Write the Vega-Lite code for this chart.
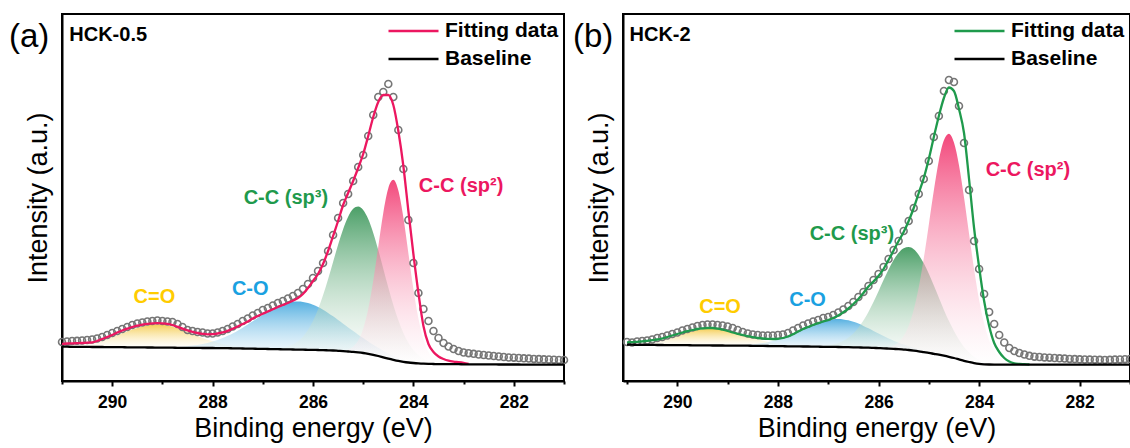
{
"$schema": "https://vega.github.io/schema/vega-lite/v6.json",
"padding": {"left": 8, "top": 13, "right": 0, "bottom": 0},
"spacing": 59,
"bounds": "flush",
"datasets": {
"a": [
{"e":291.0,"raw":39,"Fitting data":37,"Baseline":34.3,"c1":34.9},
{"e":290.9,"raw":39.5,"Fitting data":37.5,"Baseline":34.3,"c1":35.1},
{"e":290.8,"raw":40,"Fitting data":37.6,"Baseline":34.2,"c1":35.4},
{"e":290.7,"raw":40.2,"Fitting data":37.8,"Baseline":34.2,"c1":35.9},
{"e":290.6,"raw":40.5,"Fitting data":38,"Baseline":34.1,"c1":36.4},
{"e":290.5,"raw":41,"Fitting data":38.3,"Baseline":34.1,"c1":37.2},
{"e":290.4,"raw":41.5,"Fitting data":38.6,"Baseline":34,"c1":38.1},
{"e":290.3,"raw":42.5,"Fitting data":40,"Baseline":34,"c1":39.3},
{"e":290.2,"raw":44,"Fitting data":42,"Baseline":34,"c1":40.7},
{"e":290.1,"raw":46,"Fitting data":44,"Baseline":33.9,"c1":42.2},
{"e":290.0,"raw":48,"Fitting data":46,"Baseline":33.9,"c1":44},
{"e":289.9,"raw":50,"Fitting data":48.5,"Baseline":33.8,"c1":45.8},
{"e":289.8,"raw":52,"Fitting data":50.5,"Baseline":33.8,"c1":47.8},
{"e":289.7,"raw":54,"Fitting data":52.3,"Baseline":33.7,"c1":49.6},
{"e":289.6,"raw":56,"Fitting data":54,"Baseline":33.7,"c1":51.5},
{"e":289.5,"raw":57.5,"Fitting data":55.3,"Baseline":33.6,"c1":53.1},
{"e":289.4,"raw":58.5,"Fitting data":56.3,"Baseline":33.6,"c1":54.6},
{"e":289.3,"raw":59.5,"Fitting data":57.2,"Baseline":33.5,"c1":55.6},
{"e":289.2,"raw":60,"Fitting data":57.7,"Baseline":33.5,"c1":56.3},
{"e":289.1,"raw":60.5,"Fitting data":57.8,"Baseline":33.4,"c1":56.4},
{"e":289.0,"raw":60,"Fitting data":57.6,"Baseline":33.4,"c1":56.2},
{"e":288.9,"raw":59.5,"Fitting data":57.1,"Baseline":33.3,"c1":55.4},
{"e":288.8,"raw":59,"Fitting data":56,"Baseline":33.3,"c1":54.3,"c2":33.9},
{"e":288.7,"raw":57,"Fitting data":54.2,"Baseline":33.2,"c1":52.7,"c2":34.1},
{"e":288.6,"raw":54,"Fitting data":52.3,"Baseline":33.2,"c1":51,"c2":34.4},
{"e":288.5,"raw":51,"Fitting data":50.6,"Baseline":33.1,"c1":49,"c2":34.8},
{"e":288.4,"raw":50,"Fitting data":49.2,"Baseline":33.1,"c1":47.1,"c2":35.4},
{"e":288.3,"raw":49,"Fitting data":48,"Baseline":33.1,"c1":45.1,"c2":36.1},
{"e":288.2,"raw":48.5,"Fitting data":47.2,"Baseline":33,"c1":43.1,"c2":37},
{"e":288.1,"raw":47.5,"Fitting data":46.7,"Baseline":33,"c1":41.3,"c2":38.1},
{"e":288.0,"raw":47.5,"Fitting data":46.8,"Baseline":33,"c1":39.7,"c2":39.5},
{"e":287.9,"raw":48.5,"Fitting data":47.5,"Baseline":32.9,"c1":38.2,"c2":41.1},
{"e":287.8,"raw":50,"Fitting data":48.6,"Baseline":32.8,"c1":36.9,"c2":42.9},
{"e":287.7,"raw":52,"Fitting data":50.2,"Baseline":32.8,"c1":35.9,"c2":45.2},
{"e":287.6,"raw":54.5,"Fitting data":52.2,"Baseline":32.7,"c1":35,"c2":47.6},
{"e":287.5,"raw":57,"Fitting data":54.5,"Baseline":32.6,"c1":34.3,"c2":50.3},
{"e":287.4,"raw":60,"Fitting data":57,"Baseline":32.5,"c1":33.7,"c2":53.3},
{"e":287.3,"raw":62.5,"Fitting data":59.5,"Baseline":32.4,"c1":33.2,"c2":56.5},
{"e":287.2,"raw":65.5,"Fitting data":62.5,"Baseline":32.3,"c1":32.9,"c2":59.7},
{"e":287.1,"raw":68,"Fitting data":65,"Baseline":32.2,"c1":32.6,"c2":63},
{"e":287.0,"raw":71,"Fitting data":67.3,"Baseline":32.1,"c2":66.3},
{"e":286.9,"raw":73,"Fitting data":69.5,"Baseline":32,"c2":69.4},
{"e":286.8,"raw":75.5,"Fitting data":71.8,"Baseline":31.9,"c2":72.3},
{"e":286.7,"raw":78,"Fitting data":74,"Baseline":31.8,"c2":74.8,"c3":32.7},
{"e":286.6,"raw":80,"Fitting data":76,"Baseline":31.7,"c2":76.8,"c3":33.3},
{"e":286.5,"raw":82.5,"Fitting data":78,"Baseline":31.6,"c2":78.3,"c3":34.5},
{"e":286.4,"raw":85,"Fitting data":80.3,"Baseline":31.5,"c2":79.2,"c3":36.5},
{"e":286.3,"raw":88,"Fitting data":83,"Baseline":31.4,"c2":79.4,"c3":39.6},
{"e":286.2,"raw":92,"Fitting data":87,"Baseline":31.3,"c2":79,"c3":44.3},
{"e":286.1,"raw":97,"Fitting data":93,"Baseline":31.2,"c2":77.9,"c3":50.9},
{"e":286.0,"raw":103,"Fitting data":100,"Baseline":31.1,"c2":76.2,"c3":60},
{"e":285.9,"raw":110,"Fitting data":107,"Baseline":31,"c2":74,"c3":71.6},
{"e":285.8,"raw":118,"Fitting data":117,"Baseline":30.9,"c2":71.3,"c3":85.7},
{"e":285.7,"raw":130,"Fitting data":130,"Baseline":30.7,"c2":68.1,"c3":101.8},
{"e":285.6,"raw":146,"Fitting data":145,"Baseline":30.5,"c2":64.7,"c3":119.1},
{"e":285.5,"raw":163,"Fitting data":160,"Baseline":30.2,"c2":61,"c3":136.2},
{"e":285.4,"raw":178,"Fitting data":176,"Baseline":29.9,"c2":57.3,"c3":151.8,"c4":30.6},
{"e":285.3,"raw":187,"Fitting data":188,"Baseline":29.5,"c2":53.6,"c3":164.3,"c4":31.5},
{"e":285.2,"raw":200,"Fitting data":200,"Baseline":29.1,"c2":49.9,"c3":172.2,"c4":34.3},
{"e":285.1,"raw":214,"Fitting data":213,"Baseline":28.6,"c2":46.3,"c3":174.6,"c4":40.4},
{"e":285.0,"raw":226,"Fitting data":227,"Baseline":28,"c2":42.9,"c3":171.1,"c4":52.3},
{"e":284.9,"raw":245,"Fitting data":245,"Baseline":27.2,"c2":39.6,"c3":162,"c4":72},
{"e":284.8,"raw":266,"Fitting data":264,"Baseline":26.2,"c2":36.3,"c3":148.1,"c4":100.2},
{"e":284.7,"raw":284,"Fitting data":279,"Baseline":25,"c2":33.2,"c3":131,"c4":134.3},
{"e":284.6,"raw":289,"Fitting data":286,"Baseline":23.7,"c2":30.2,"c3":112.3,"c4":167.9},
{"e":284.5,"raw":297,"Fitting data":286,"Baseline":22.4,"c2":27.5,"c3":93.5,"c4":192.7},
{"e":284.4,"raw":284,"Fitting data":276,"Baseline":21.2,"c2":25.2,"c3":76,"c4":201.2},
{"e":284.3,"raw":251,"Fitting data":250,"Baseline":20.1,"c2":23.1,"c3":60.7,"c4":190.4},
{"e":284.2,"raw":212,"Fitting data":215,"Baseline":19.2,"c2":21.5,"c3":48.1,"c4":163.4},
{"e":284.1,"raw":161,"Fitting data":170,"Baseline":18.5,"c2":20.2,"c3":38.2,"c4":127.8},
{"e":284.0,"raw":118,"Fitting data":127,"Baseline":18,"c2":19.2,"c3":31,"c4":92},
{"e":283.9,"raw":88,"Fitting data":88,"Baseline":17.6,"c2":18.5,"c3":25.8,"c4":62.4},
{"e":283.8,"raw":72,"Fitting data":55,"Baseline":17.3,"c2":17.9,"c3":22.3,"c4":41.6},
{"e":283.7,"raw":60,"Fitting data":37,"Baseline":17.1,"c3":20,"c4":28.9},
{"e":283.6,"raw":50,"Fitting data":29,"Baseline":17,"c3":18.6,"c4":22.2},
{"e":283.5,"raw":43,"Fitting data":24.5,"Baseline":16.9,"c3":17.8,"c4":18.9},
{"e":283.4,"raw":38,"Fitting data":22,"Baseline":16.9,"c4":17.6},
{"e":283.3,"raw":34.5,"Fitting data":20.3,"Baseline":16.8},
{"e":283.2,"raw":32,"Fitting data":19.4,"Baseline":16.8},
{"e":283.1,"raw":30,"Fitting data":18.9,"Baseline":16.8},
{"e":283.0,"raw":28.5,"Fitting data":18.2,"Baseline":16.7},
{"e":282.9,"raw":27.8,"Fitting data":17.2,"Baseline":16.7},
{"e":282.8,"raw":27.2,"Baseline":16.7},
{"e":282.7,"raw":26.5,"Baseline":16.6},
{"e":282.6,"raw":26,"Baseline":16.6},
{"e":282.5,"raw":25.5,"Baseline":16.6},
{"e":282.4,"raw":25,"Baseline":16.6},
{"e":282.3,"raw":24.5,"Baseline":16.5},
{"e":282.2,"raw":24,"Baseline":16.5},
{"e":282.1,"raw":23.5,"Baseline":16.5},
{"e":282.0,"raw":23.3,"Baseline":16.5},
{"e":281.9,"raw":23,"Baseline":16.5},
{"e":281.8,"raw":22.7,"Baseline":16.4},
{"e":281.7,"raw":22.4,"Baseline":16.4},
{"e":281.6,"raw":22.1,"Baseline":16.4},
{"e":281.5,"raw":21.9,"Baseline":16.4},
{"e":281.4,"raw":21.7,"Baseline":16.4},
{"e":281.3,"raw":21.5,"Baseline":16.3},
{"e":281.2,"raw":21.3,"Baseline":16.3},
{"e":281.1,"raw":21.1,"Baseline":16.3},
{"e":281.0,"raw":21,"Baseline":16.3}
],
"b": [
{"e":291.0,"raw":39,"Fitting data":38.7,"Baseline":36.3,"c1":36.9},
{"e":290.9,"raw":38.5,"Fitting data":38.8,"Baseline":36.3,"c1":37.1},
{"e":290.8,"raw":39.5,"Fitting data":39.2,"Baseline":36.2,"c1":37.4},
{"e":290.7,"raw":40,"Fitting data":39.6,"Baseline":36.2,"c1":37.9},
{"e":290.6,"raw":40.5,"Fitting data":40.2,"Baseline":36.1,"c1":38.4},
{"e":290.5,"raw":41.5,"Fitting data":40.8,"Baseline":36.1,"c1":39.2},
{"e":290.4,"raw":43,"Fitting data":41.5,"Baseline":36,"c1":40.1},
{"e":290.3,"raw":44,"Fitting data":42.5,"Baseline":36,"c1":41.2},
{"e":290.2,"raw":45.5,"Fitting data":44,"Baseline":35.9,"c1":42.4},
{"e":290.1,"raw":47,"Fitting data":45.5,"Baseline":35.9,"c1":43.9},
{"e":290.0,"raw":48.5,"Fitting data":47,"Baseline":35.8,"c1":45.3},
{"e":289.9,"raw":50.5,"Fitting data":48.5,"Baseline":35.8,"c1":46.9},
{"e":289.8,"raw":52,"Fitting data":49.8,"Baseline":35.8,"c1":48.5},
{"e":289.7,"raw":53.5,"Fitting data":51,"Baseline":35.7,"c1":49.8},
{"e":289.6,"raw":55,"Fitting data":52,"Baseline":35.7,"c1":51},
{"e":289.5,"raw":56,"Fitting data":52.6,"Baseline":35.6,"c1":51.8},
{"e":289.4,"raw":56.5,"Fitting data":53,"Baseline":35.6,"c1":52.4},
{"e":289.3,"raw":56.5,"Fitting data":53,"Baseline":35.5,"c1":52.5},
{"e":289.2,"raw":56,"Fitting data":52.4,"Baseline":35.5,"c1":52.3},
{"e":289.1,"raw":55.5,"Fitting data":51.3,"Baseline":35.5,"c1":51.7},
{"e":289.0,"raw":54.5,"Fitting data":50,"Baseline":35.4,"c1":50.7},
{"e":288.9,"raw":53,"Fitting data":48.5,"Baseline":35.4,"c1":49.5},
{"e":288.8,"raw":51,"Fitting data":47.2,"Baseline":35.4,"c1":48.1,"c2":35.9},
{"e":288.7,"raw":49,"Fitting data":46,"Baseline":35.3,"c1":46.4,"c2":36},
{"e":288.6,"raw":47.5,"Fitting data":44.8,"Baseline":35.3,"c1":44.8,"c2":36.3},
{"e":288.5,"raw":46.5,"Fitting data":43.8,"Baseline":35.2,"c1":43.2,"c2":36.7},
{"e":288.4,"raw":46,"Fitting data":43,"Baseline":35.2,"c1":41.7,"c2":37.3},
{"e":288.3,"raw":45.5,"Fitting data":42.5,"Baseline":35.1,"c1":40.3,"c2":37.9},
{"e":288.2,"raw":45.5,"Fitting data":42.2,"Baseline":35,"c1":39.1,"c2":38.8},
{"e":288.1,"raw":45.5,"Fitting data":42,"Baseline":34.9,"c1":38,"c2":39.9},
{"e":288.0,"raw":46,"Fitting data":42.2,"Baseline":34.9,"c1":37.2,"c2":41.3},
{"e":287.9,"raw":46.5,"Fitting data":43,"Baseline":34.8,"c1":36.5,"c2":43},
{"e":287.8,"raw":48,"Fitting data":44.5,"Baseline":34.7,"c1":35.9,"c2":44.8},
{"e":287.7,"raw":50.5,"Fitting data":46.8,"Baseline":34.7,"c1":35.5,"c2":47},
{"e":287.6,"raw":53,"Fitting data":49.5,"Baseline":34.6,"c1":35.2,"c2":49.2},
{"e":287.5,"raw":55.5,"Fitting data":52,"Baseline":34.5,"c1":34.9,"c2":51.5},
{"e":287.4,"raw":57.5,"Fitting data":54,"Baseline":34.5,"c2":53.9},
{"e":287.3,"raw":59.5,"Fitting data":56,"Baseline":34.4,"c2":56.1},
{"e":287.2,"raw":61,"Fitting data":57.8,"Baseline":34.3,"c2":58.1},
{"e":287.1,"raw":63,"Fitting data":59.5,"Baseline":34.2,"c2":59.7,"c3":35.1},
{"e":287.0,"raw":64,"Fitting data":61,"Baseline":34.2,"c2":61.1,"c3":35.7},
{"e":286.9,"raw":66,"Fitting data":63,"Baseline":34.1,"c2":61.8,"c3":36.6},
{"e":286.8,"raw":68.5,"Fitting data":65.5,"Baseline":34,"c2":62,"c3":38},
{"e":286.7,"raw":71.5,"Fitting data":68.7,"Baseline":33.9,"c2":61.6,"c3":40.2},
{"e":286.6,"raw":75,"Fitting data":72.5,"Baseline":33.8,"c2":60.7,"c3":43.3},
{"e":286.5,"raw":79,"Fitting data":77,"Baseline":33.7,"c2":59.2,"c3":47.6},
{"e":286.4,"raw":84,"Fitting data":82,"Baseline":33.6,"c2":57.4,"c3":53.3},
{"e":286.3,"raw":89,"Fitting data":88,"Baseline":33.4,"c2":55.1,"c3":60.4},
{"e":286.2,"raw":95,"Fitting data":94.5,"Baseline":33.3,"c2":52.7,"c3":69},
{"e":286.1,"raw":101,"Fitting data":99.5,"Baseline":33.1,"c2":50.1,"c3":78.9},
{"e":286.0,"raw":107,"Fitting data":105,"Baseline":32.9,"c2":47.5,"c3":89.8},
{"e":285.9,"raw":114,"Fitting data":112,"Baseline":32.7,"c2":45,"c3":100.9},
{"e":285.8,"raw":122,"Fitting data":121,"Baseline":32.4,"c2":42.5,"c3":111.5,"c4":33.9},
{"e":285.7,"raw":131,"Fitting data":130.5,"Baseline":32.1,"c2":40.3,"c3":120.9,"c4":35.5},
{"e":285.6,"raw":140,"Fitting data":140,"Baseline":31.8,"c2":38.2,"c3":128.2,"c4":38.8},
{"e":285.5,"raw":150,"Fitting data":149,"Baseline":31.4,"c2":36.4,"c3":132.8,"c4":44.9},
{"e":285.4,"raw":160,"Fitting data":160,"Baseline":31,"c2":34.8,"c3":134,"c4":55.3},
{"e":285.3,"raw":173,"Fitting data":173,"Baseline":30.4,"c2":33.2,"c3":131.8,"c4":71.2},
{"e":285.2,"raw":187,"Fitting data":188,"Baseline":29.7,"c2":31.8,"c3":126.1,"c4":93.7},
{"e":285.1,"raw":202,"Fitting data":203,"Baseline":28.9,"c2":30.4,"c3":117.7,"c4":122.8},
{"e":285.0,"raw":220,"Fitting data":222,"Baseline":28.1,"c2":29.1,"c3":107.2,"c4":156.3},
{"e":284.9,"raw":244,"Fitting data":244,"Baseline":27.2,"c2":27.9,"c3":95.4,"c4":190.4},
{"e":284.8,"raw":265,"Fitting data":265,"Baseline":26.3,"c2":26.8,"c3":83.2,"c4":220.5},
{"e":284.7,"raw":290,"Fitting data":283,"Baseline":25.3,"c3":71.1,"c4":240.7},
{"e":284.6,"raw":301,"Fitting data":293.5,"Baseline":24.2,"c3":59.9,"c4":247.2},
{"e":284.5,"raw":299,"Fitting data":290,"Baseline":23,"c3":50,"c4":238.4},
{"e":284.4,"raw":275,"Fitting data":272,"Baseline":21.6,"c3":41.3,"c4":215.8},
{"e":284.3,"raw":238,"Fitting data":248,"Baseline":20.2,"c3":34.1,"c4":183.4},
{"e":284.2,"raw":191,"Fitting data":202,"Baseline":19,"c3":28.5,"c4":147.2},
{"e":284.1,"raw":140,"Fitting data":153,"Baseline":17.9,"c3":24.2,"c4":111.8},
{"e":284.0,"raw":112,"Fitting data":114,"Baseline":17.1,"c3":21.1,"c4":81.1},
{"e":283.9,"raw":87,"Fitting data":80,"Baseline":16.7,"c3":19.2,"c4":57.5},
{"e":283.8,"raw":69,"Fitting data":55,"Baseline":16.5,"c3":18,"c4":40.8},
{"e":283.7,"raw":57,"Fitting data":38,"Baseline":16.4,"c3":17.3,"c4":29.9},
{"e":283.6,"raw":46,"Fitting data":29,"Baseline":16.4,"c4":23.4},
{"e":283.5,"raw":38.5,"Fitting data":23,"Baseline":16.4,"c4":19.8},
{"e":283.4,"raw":33,"Fitting data":19.5,"Baseline":16.4,"c4":17.9},
{"e":283.3,"raw":30,"Fitting data":17.7,"Baseline":16.4},
{"e":283.2,"raw":28,"Fitting data":17.1,"Baseline":16.4},
{"e":283.1,"raw":26.5,"Fitting data":16.8,"Baseline":16.4},
{"e":283.0,"raw":25.2,"Fitting data":16.5,"Baseline":16.4},
{"e":282.9,"raw":24.3,"Baseline":16.4},
{"e":282.8,"raw":24,"Baseline":16.4},
{"e":282.7,"raw":23.6,"Baseline":16.4},
{"e":282.6,"raw":23.3,"Baseline":16.4},
{"e":282.5,"raw":23,"Baseline":16.4},
{"e":282.4,"raw":22.7,"Baseline":16.4},
{"e":282.3,"raw":22.4,"Baseline":16.4},
{"e":282.2,"raw":22.1,"Baseline":16.4},
{"e":282.1,"raw":21.9,"Baseline":16.4},
{"e":282.0,"raw":21.7,"Baseline":16.4},
{"e":281.9,"raw":21.5,"Baseline":16.3},
{"e":281.8,"raw":21.4,"Baseline":16.3},
{"e":281.7,"raw":21.3,"Baseline":16.3},
{"e":281.6,"raw":21.2,"Baseline":16.3},
{"e":281.5,"raw":21.1,"Baseline":16.3},
{"e":281.4,"raw":21.2,"Baseline":16.3},
{"e":281.3,"raw":21.4,"Baseline":16.3},
{"e":281.2,"raw":21.6,"Baseline":16.3},
{"e":281.1,"raw":21.8,"Baseline":16.3},
{"e":281.0,"raw":22,"Baseline":16.3}
]
},
"hconcat": [
{
"width": 502, "height": 367,
"title": {"text": "(a)", "anchor": "start", "frame": "group", "offset": 0, "dx": -53, "dy": 40, "fontSize": 33, "fontWeight": "normal", "font": "Liberation Sans", "color": "black"},
"data": {"name": "a"},
"layer": [
{"mark": {"type": "area", "interpolate": "monotone", "color": {"gradient": "linear", "x1": 0, "y1": 0, "x2": 0, "y2": 1, "stops": [{"offset": 0, "color": "rgba(242,190,30,0.75)"}, {"offset": 1, "color": "rgba(255,255,255,0.3)"}]}},
 "encoding": {
  "x": {"field": "e", "type": "quantitative", "scale": {"domain": [281, 291], "reverse": true, "nice": false, "zero": false},
        "axis": {"title": "Binding energy (eV)", "values": [291,290,289,288,287,286,285,284,283,282,281], "labelExpr": "datum.value % 2 === 0 ? datum.label : ''", "tickSize": {"condition": {"test": "datum.value % 2 === 0", "value": 5}, "value": 3}, "labelFontSize": 17.5, "labelFontWeight": "bold", "labelPadding": 7, "labelFlush": false, "labelOverlap": false, "titleFontSize": 27, "titleFontWeight": "normal", "titlePadding": 5, "grid": false}},
  "y": {"field": "c1", "type": "quantitative", "scale": {"domain": [0, 367], "nice": false, "zero": false},
        "axis": {"title": "Intensity (a.u.)", "labels": false, "ticks": false, "grid": false, "titleFontSize": 27, "titleFontWeight": "normal", "titlePadding": 10}},
  "y2": {"field": "Baseline"}}},
{"mark": {"type": "area", "interpolate": "monotone", "color": {"gradient": "linear", "x1": 0, "y1": 0, "x2": 0, "y2": 1, "stops": [{"offset": 0, "color": "rgba(30,150,215,0.75)"}, {"offset": 1, "color": "rgba(255,255,255,0.3)"}]}},
 "encoding": {
  "x": {"field": "e", "type": "quantitative", "scale": {"domain": [281, 291], "reverse": true, "nice": false, "zero": false}},
  "y": {"field": "c2", "type": "quantitative", "scale": {"domain": [0, 367], "nice": false, "zero": false}},
  "y2": {"field": "Baseline"}}},
{"mark": {"type": "area", "interpolate": "monotone", "color": {"gradient": "linear", "x1": 0, "y1": 0, "x2": 0, "y2": 1, "stops": [{"offset": 0, "color": "rgba(30,135,65,0.8)"}, {"offset": 1, "color": "rgba(255,255,255,0.3)"}]}},
 "encoding": {
  "x": {"field": "e", "type": "quantitative", "scale": {"domain": [281, 291], "reverse": true, "nice": false, "zero": false}},
  "y": {"field": "c3", "type": "quantitative", "scale": {"domain": [0, 367], "nice": false, "zero": false}},
  "y2": {"field": "Baseline"}}},
{"mark": {"type": "area", "interpolate": "monotone", "color": {"gradient": "linear", "x1": 0, "y1": 0, "x2": 0, "y2": 1, "stops": [{"offset": 0, "color": "rgba(240,40,100,0.85)"}, {"offset": 1, "color": "rgba(255,255,255,0.3)"}]}},
 "encoding": {
  "x": {"field": "e", "type": "quantitative", "scale": {"domain": [281, 291], "reverse": true, "nice": false, "zero": false}},
  "y": {"field": "c4", "type": "quantitative", "scale": {"domain": [0, 367], "nice": false, "zero": false}},
  "y2": {"field": "Baseline"}}},
{"mark": {"type": "point", "shape": "circle", "filled": false, "color": "#767676", "strokeWidth": 1.6, "size": 48, "opacity": 1},
 "encoding": {
  "x": {"field": "e", "type": "quantitative", "scale": {"domain": [281, 291], "reverse": true, "nice": false, "zero": false}},
  "y": {"field": "raw", "type": "quantitative", "scale": {"domain": [0, 367], "nice": false, "zero": false}}}},
{"transform": [{"fold": ["Fitting data", "Baseline"]}],
 "mark": {"type": "line", "strokeWidth": 2.3, "interpolate": "monotone"},
 "encoding": {
  "x": {"field": "e", "type": "quantitative", "scale": {"domain": [281, 291], "reverse": true, "nice": false, "zero": false}},
  "y": {"field": "value", "type": "quantitative", "scale": {"domain": [0, 367], "nice": false, "zero": false}},
  "color": {"field": "key", "type": "nominal", "scale": {"domain": ["Fitting data", "Baseline"], "range": ["#EC1760", "#000000"]},
    "legend": {"orient": "top-right", "title": null, "symbolType": "stroke", "symbolSize": 2500, "symbolStrokeWidth": 2.5, "clipHeight": 24, "rowPadding": 4, "labelFontSize": 21, "labelFontWeight": "bold", "labelFont": "Liberation Sans", "labelColor": "black", "labelOffset": 5, "padding": 0, "offset": 5}}}},
{"data": {"values": [{}]}, "mark": {"type": "text", "text": "HCK-0.5", "align": "left", "baseline": "alphabetic", "fontSize": 20, "fontWeight": "bold", "font": "Liberation Sans", "color": "black"},
 "encoding": {"x": {"datum": 290.855, "type": "quantitative", "scale": {"domain": [281, 291], "reverse": true, "nice": false, "zero": false}}, "y": {"datum": 340, "type": "quantitative", "scale": {"domain": [0, 367], "nice": false, "zero": false}}}},
{"data": {"values": [{}]}, "mark": {"type": "text", "text": "C=O", "align": "center", "baseline": "middle", "fontSize": 20, "fontWeight": "bold", "font": "Liberation Sans", "color": "#FFCC00"},
 "encoding": {"x": {"datum": 289.16, "type": "quantitative", "scale": {"domain": [281, 291], "reverse": true, "nice": false, "zero": false}}, "y": {"datum": 84, "type": "quantitative", "scale": {"domain": [0, 367], "nice": false, "zero": false}}}},
{"data": {"values": [{}]}, "mark": {"type": "text", "text": "C-O", "align": "center", "baseline": "middle", "fontSize": 20, "fontWeight": "bold", "font": "Liberation Sans", "color": "#1AA1E1"},
 "encoding": {"x": {"datum": 287.25, "type": "quantitative", "scale": {"domain": [281, 291], "reverse": true, "nice": false, "zero": false}}, "y": {"datum": 92, "type": "quantitative", "scale": {"domain": [0, 367], "nice": false, "zero": false}}}},
{"data": {"values": [{}]}, "mark": {"type": "text", "text": "C-C (sp³)", "align": "center", "baseline": "middle", "fontSize": 20, "fontWeight": "bold", "font": "Liberation Sans", "color": "#1F9A4C"},
 "encoding": {"x": {"datum": 286.54, "type": "quantitative", "scale": {"domain": [281, 291], "reverse": true, "nice": false, "zero": false}}, "y": {"datum": 183, "type": "quantitative", "scale": {"domain": [0, 367], "nice": false, "zero": false}}}},
{"data": {"values": [{}]}, "mark": {"type": "text", "text": "C-C (sp²)", "align": "center", "baseline": "middle", "fontSize": 20, "fontWeight": "bold", "font": "Liberation Sans", "color": "#EC1760"},
 "encoding": {"x": {"datum": 283.05, "type": "quantitative", "scale": {"domain": [281, 291], "reverse": true, "nice": false, "zero": false}}, "y": {"datum": 195, "type": "quantitative", "scale": {"domain": [0, 367], "nice": false, "zero": false}}}}
]
},
{
"width": 507, "height": 367,
"title": {"text": "(b)", "anchor": "start", "frame": "group", "offset": 0, "dx": -50, "dy": 40, "fontSize": 33, "fontWeight": "normal", "font": "Liberation Sans", "color": "black"},
"data": {"name": "b"},
"layer": [
{"mark": {"type": "area", "interpolate": "monotone", "color": {"gradient": "linear", "x1": 0, "y1": 0, "x2": 0, "y2": 1, "stops": [{"offset": 0, "color": "rgba(242,190,30,0.75)"}, {"offset": 1, "color": "rgba(255,255,255,0.3)"}]}},
 "encoding": {
  "x": {"field": "e", "type": "quantitative", "scale": {"domain": [281, 291.08], "reverse": true, "nice": false, "zero": false},
        "axis": {"title": "Binding energy (eV)", "values": [291,290,289,288,287,286,285,284,283,282,281], "labelExpr": "datum.value % 2 === 0 ? datum.label : ''", "tickSize": {"condition": {"test": "datum.value % 2 === 0", "value": 5}, "value": 3}, "labelFontSize": 17.5, "labelFontWeight": "bold", "labelPadding": 7, "labelFlush": false, "labelOverlap": false, "titleFontSize": 27, "titleFontWeight": "normal", "titlePadding": 5, "grid": false}},
  "y": {"field": "c1", "type": "quantitative", "scale": {"domain": [0, 367], "nice": false, "zero": false},
        "axis": {"title": "Intensity (a.u.)", "labels": false, "ticks": false, "grid": false, "titleFontSize": 27, "titleFontWeight": "normal", "titlePadding": 10}},
  "y2": {"field": "Baseline"}}},
{"mark": {"type": "area", "interpolate": "monotone", "color": {"gradient": "linear", "x1": 0, "y1": 0, "x2": 0, "y2": 1, "stops": [{"offset": 0, "color": "rgba(30,150,215,0.75)"}, {"offset": 1, "color": "rgba(255,255,255,0.3)"}]}},
 "encoding": {
  "x": {"field": "e", "type": "quantitative", "scale": {"domain": [281, 291.08], "reverse": true, "nice": false, "zero": false}},
  "y": {"field": "c2", "type": "quantitative", "scale": {"domain": [0, 367], "nice": false, "zero": false}},
  "y2": {"field": "Baseline"}}},
{"mark": {"type": "area", "interpolate": "monotone", "color": {"gradient": "linear", "x1": 0, "y1": 0, "x2": 0, "y2": 1, "stops": [{"offset": 0, "color": "rgba(30,135,65,0.8)"}, {"offset": 1, "color": "rgba(255,255,255,0.3)"}]}},
 "encoding": {
  "x": {"field": "e", "type": "quantitative", "scale": {"domain": [281, 291.08], "reverse": true, "nice": false, "zero": false}},
  "y": {"field": "c3", "type": "quantitative", "scale": {"domain": [0, 367], "nice": false, "zero": false}},
  "y2": {"field": "Baseline"}}},
{"mark": {"type": "area", "interpolate": "monotone", "color": {"gradient": "linear", "x1": 0, "y1": 0, "x2": 0, "y2": 1, "stops": [{"offset": 0, "color": "rgba(240,40,100,0.85)"}, {"offset": 1, "color": "rgba(255,255,255,0.3)"}]}},
 "encoding": {
  "x": {"field": "e", "type": "quantitative", "scale": {"domain": [281, 291.08], "reverse": true, "nice": false, "zero": false}},
  "y": {"field": "c4", "type": "quantitative", "scale": {"domain": [0, 367], "nice": false, "zero": false}},
  "y2": {"field": "Baseline"}}},
{"mark": {"type": "point", "shape": "circle", "filled": false, "color": "#767676", "strokeWidth": 1.6, "size": 48, "opacity": 1},
 "encoding": {
  "x": {"field": "e", "type": "quantitative", "scale": {"domain": [281, 291.08], "reverse": true, "nice": false, "zero": false}},
  "y": {"field": "raw", "type": "quantitative", "scale": {"domain": [0, 367], "nice": false, "zero": false}}}},
{"transform": [{"fold": ["Fitting data", "Baseline"]}],
 "mark": {"type": "line", "strokeWidth": 2.3, "interpolate": "monotone"},
 "encoding": {
  "x": {"field": "e", "type": "quantitative", "scale": {"domain": [281, 291.08], "reverse": true, "nice": false, "zero": false}},
  "y": {"field": "value", "type": "quantitative", "scale": {"domain": [0, 367], "nice": false, "zero": false}},
  "color": {"field": "key", "type": "nominal", "scale": {"domain": ["Fitting data", "Baseline"], "range": ["#1F9A4C", "#000000"]},
    "legend": {"orient": "top-right", "title": null, "symbolType": "stroke", "symbolSize": 2500, "symbolStrokeWidth": 2.5, "clipHeight": 24, "rowPadding": 4, "labelFontSize": 21, "labelFontWeight": "bold", "labelFont": "Liberation Sans", "labelColor": "black", "labelOffset": 5, "padding": 0, "offset": 5}}}},
{"data": {"values": [{}]}, "mark": {"type": "text", "text": "HCK-2", "align": "left", "baseline": "alphabetic", "fontSize": 20, "fontWeight": "bold", "font": "Liberation Sans", "color": "black"},
 "encoding": {"x": {"datum": 290.95, "type": "quantitative", "scale": {"domain": [281, 291.08], "reverse": true, "nice": false, "zero": false}}, "y": {"datum": 340, "type": "quantitative", "scale": {"domain": [0, 367], "nice": false, "zero": false}}}},
{"data": {"values": [{}]}, "mark": {"type": "text", "text": "C=O", "align": "center", "baseline": "middle", "fontSize": 20, "fontWeight": "bold", "font": "Liberation Sans", "color": "#FFCC00"},
 "encoding": {"x": {"datum": 289.15, "type": "quantitative", "scale": {"domain": [281, 291.08], "reverse": true, "nice": false, "zero": false}}, "y": {"datum": 74, "type": "quantitative", "scale": {"domain": [0, 367], "nice": false, "zero": false}}}},
{"data": {"values": [{}]}, "mark": {"type": "text", "text": "C-O", "align": "center", "baseline": "middle", "fontSize": 20, "fontWeight": "bold", "font": "Liberation Sans", "color": "#1AA1E1"},
 "encoding": {"x": {"datum": 287.41, "type": "quantitative", "scale": {"domain": [281, 291.08], "reverse": true, "nice": false, "zero": false}}, "y": {"datum": 81, "type": "quantitative", "scale": {"domain": [0, 367], "nice": false, "zero": false}}}},
{"data": {"values": [{}]}, "mark": {"type": "text", "text": "C-C (sp³)", "align": "center", "baseline": "middle", "fontSize": 20, "fontWeight": "bold", "font": "Liberation Sans", "color": "#1F9A4C"},
 "encoding": {"x": {"datum": 286.53, "type": "quantitative", "scale": {"domain": [281, 291.08], "reverse": true, "nice": false, "zero": false}}, "y": {"datum": 147, "type": "quantitative", "scale": {"domain": [0, 367], "nice": false, "zero": false}}}},
{"data": {"values": [{}]}, "mark": {"type": "text", "text": "C-C (sp²)", "align": "center", "baseline": "middle", "fontSize": 20, "fontWeight": "bold", "font": "Liberation Sans", "color": "#EC1760"},
 "encoding": {"x": {"datum": 283.03, "type": "quantitative", "scale": {"domain": [281, 291.08], "reverse": true, "nice": false, "zero": false}}, "y": {"datum": 211, "type": "quantitative", "scale": {"domain": [0, 367], "nice": false, "zero": false}}}}
]
}
],
"resolve": {"scale": {"x": "independent", "y": "independent", "color": "independent"}, "legend": {"color": "independent"}},
"config": {
 "view": {"stroke": "black", "strokeWidth": 2},
 "font": "Liberation Sans",
 "axis": {"domainColor": "black", "domainWidth": 2, "tickColor": "black", "tickWidth": 2, "labelColor": "black", "titleColor": "black", "labelFont": "Liberation Sans", "titleFont": "Liberation Sans", "grid": false}
}
}
